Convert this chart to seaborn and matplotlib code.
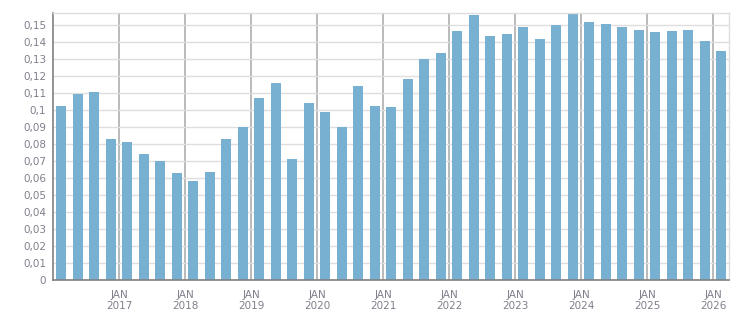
import numpy as np
import pandas as pd
import matplotlib
matplotlib.use("Agg")
import matplotlib.pyplot as plt
from matplotlib.ticker import FixedLocator, FuncFormatter
import seaborn as sns

# ==========================================
# Data (quarterly)
# ==========================================

years = [2016] * 4 + [2017] * 4 + [2018] * 4 + [2019] * 4 + [2020] * 4 + \
        [2021] * 4 + [2022] * 4 + [2023] * 4 + [2024] * 4 + [2025] * 4 + [2026]
quarters = [1, 2, 3, 4] * 10 + [1]

values = [
    0.1022, 0.1092, 0.1104, 0.0828,
    0.0810, 0.0740, 0.0699, 0.0628,
    0.0581, 0.0634, 0.0828, 0.0898,
    0.1069, 0.1157, 0.0711, 0.1039,
    0.0986, 0.0898, 0.1139, 0.1022,
    0.1016, 0.1180, 0.1298, 0.1333,
    0.1462, 0.1556, 0.1433, 0.1444,
    0.1486, 0.1415, 0.1497, 0.1562,
    0.1515, 0.1503, 0.1486, 0.1468,
    0.1456, 0.1462, 0.1468, 0.1403,
    0.1345,
]

tick_years = list(range(2017, 2027))

df = pd.DataFrame({"year": years, "quarter": quarters, "value": values})
# bar sits in the middle of its quarter
df["x"] = df["year"] + (df["quarter"] - 1) * 0.25 + 0.125

# ==========================================
# Plot
# ==========================================

sns.set_style("white")
plt.rcParams["font.family"] = ["DejaVu Sans"]

fig = plt.figure(figsize=(7.51, 3.13), dpi=100)
ax = fig.add_axes([53 / 751, 1 - 280 / 313, 676 / 751, 267 / 313])

sns.barplot(
    data=df,
    x="x",
    y="value",
    native_scale=True,
    width=0.6,
    color="#78b0d2",
    saturation=1,
    linewidth=0,
    ax=ax,
)

ax.set_xlim(2016.0, 2026.24)
ax.set_ylim(0, 0.1568)

ax.yaxis.set_major_locator(FixedLocator(np.arange(0, 0.151, 0.01)))
ax.yaxis.set_major_formatter(
    FuncFormatter(lambda v, p: f"{round(v, 2):g}".replace(".", ","))
)

ax.xaxis.set_major_locator(FixedLocator(tick_years))
ax.xaxis.set_major_formatter(FuncFormatter(lambda v, p: f"JAN\n{int(round(v))}"))
ax.xaxis.set_minor_locator(FixedLocator(np.arange(2016.25, 2026.3, 0.25)))

ax.set_axisbelow(True)
ax.yaxis.grid(True, color="#dedede", linewidth=1)
ax.xaxis.grid(True, which="major", color="#b4b4b4", linewidth=1.3)

ax.tick_params(axis="y", which="major", direction="out", length=3, width=1,
               color="#808080", labelcolor="#807f8c", labelsize=7.5, pad=2)
ax.tick_params(axis="x", which="major", direction="out", length=4, width=1,
               color="#808080", labelcolor="#807f8c", labelsize=7.5, pad=3)
ax.tick_params(axis="x", which="minor", direction="out", length=3, width=1,
               color="#808080")

for side in ["left", "bottom"]:
    ax.spines[side].set_color("#808080")
    ax.spines[side].set_linewidth(1.2)
for side in ["top", "right"]:
    ax.spines[side].set_visible(True)
    ax.spines[side].set_color("#dedede")
    ax.spines[side].set_linewidth(1)

ax.set_xlabel("")
ax.set_ylabel("")

fig.savefig("out.png", dpi=100)
